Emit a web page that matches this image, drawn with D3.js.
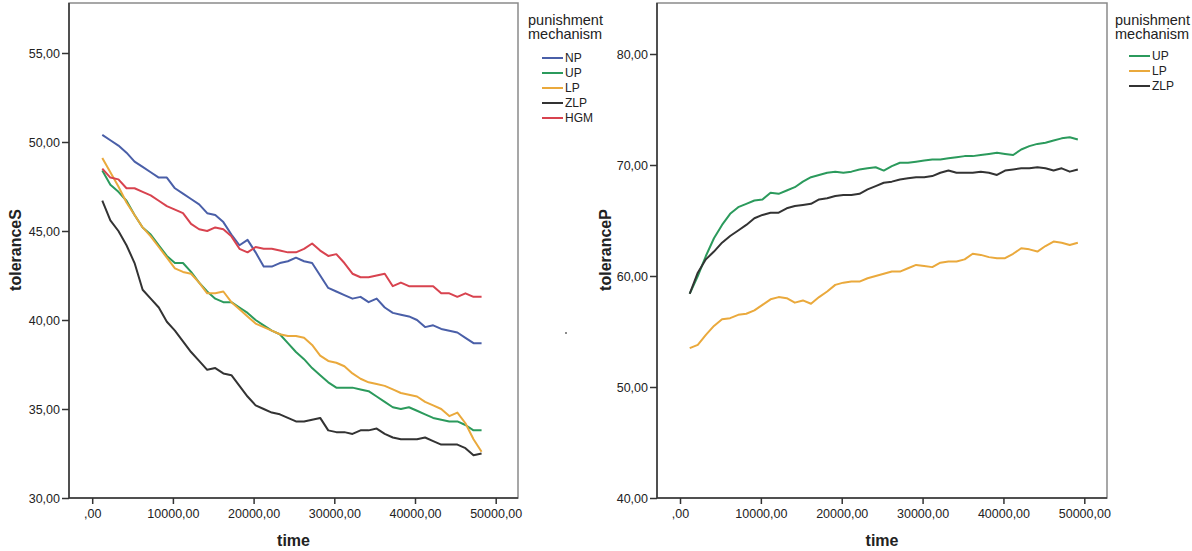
<!DOCTYPE html>
<html>
<head>
<meta charset="utf-8">
<script src="https://cdn.jsdelivr.net/npm/d3@7/dist/d3.min.js"></script>
<style>
  body { margin: 0; background: #fff; }
  text { font-family: Arial, "Liberation Sans", sans-serif; fill: #222; }
</style>
</head>
<body>
<div id="chart"></div>
<script>
let width = 1192
let height = 551

// time points of the left panel (toleranceS)
let timeS = [1250, 2250, 3250, 4250, 5250, 6250, 7250, 8250, 9250, 10250,
  11250, 12250, 13250, 14250, 15250, 16250, 17250, 18250, 19250, 20250,
  21250, 22250, 23250, 24250, 25250, 26250, 27250, 28250, 29250, 30250,
  31250, 32250, 33250, 34250, 35250, 36250, 37250, 38250, 39250, 40250,
  41250, 42250, 43250, 44250, 45250, 46250, 47250, 48250]

// time points of the right panel (toleranceP)
let timeP = [1200, 2200, 3200, 4200, 5200, 6200, 7200, 8200, 9200, 10200,
  11200, 12200, 13200, 14200, 15200, 16200, 17200, 18200, 19200, 20200,
  21200, 22200, 23200, 24200, 25200, 26200, 27200, 28200, 29200, 30200,
  31200, 32200, 33200, 34200, 35200, 36200, 37200, 38200, 39200, 40200,
  41200, 42200, 43200, 44200, 45200, 46200, 47200, 48200, 49200]

// toleranceS per mechanism
let npS = [50.4, 50.1, 49.8, 49.4, 48.9, 48.6, 48.3, 48.0, 48.0, 47.4,
  47.1, 46.8, 46.5, 46.0, 45.9, 45.5, 44.8, 44.2, 44.5, 43.8,
  43.0, 43.0, 43.2, 43.3, 43.5, 43.3, 43.2, 42.5, 41.8, 41.6,
  41.4, 41.2, 41.3, 41.0, 41.2, 40.7, 40.4, 40.3, 40.2, 40.0,
  39.6, 39.7, 39.5, 39.4, 39.3, 39.0, 38.7, 38.7]
let upS = [48.4, 47.6, 47.2, 46.7, 45.9, 45.2, 44.8, 44.2, 43.6, 43.2,
  43.2, 42.7, 42.1, 41.6, 41.2, 41.0, 41.0, 40.7, 40.4, 40.0,
  39.7, 39.4, 39.2, 38.7, 38.2, 37.8, 37.3, 36.9, 36.5, 36.2,
  36.2, 36.2, 36.1, 36.0, 35.7, 35.4, 35.1, 35.0, 35.1, 34.9,
  34.7, 34.5, 34.4, 34.3, 34.3, 34.1, 33.8, 33.8]
let lpS = [49.1, 48.3, 47.5, 46.6, 45.9, 45.2, 44.7, 44.1, 43.5, 42.9,
  42.7, 42.6, 42.1, 41.5, 41.5, 41.6, 41.0, 40.6, 40.2, 39.8,
  39.6, 39.4, 39.2, 39.1, 39.1, 39.0, 38.6, 38.0, 37.7, 37.6,
  37.4, 37.0, 36.7, 36.5, 36.4, 36.3, 36.1, 35.9, 35.8, 35.7,
  35.4, 35.2, 35.0, 34.6, 34.8, 34.2, 33.3, 32.6]
let zlpS = [46.7, 45.6, 45.0, 44.2, 43.2, 41.7, 41.2, 40.7, 39.9, 39.4,
  38.8, 38.2, 37.7, 37.2, 37.3, 37.0, 36.9, 36.3, 35.7, 35.2,
  35.0, 34.8, 34.7, 34.5, 34.3, 34.3, 34.4, 34.5, 33.8, 33.7,
  33.7, 33.6, 33.8, 33.8, 33.9, 33.6, 33.4, 33.3, 33.3, 33.3,
  33.4, 33.2, 33.0, 33.0, 33.0, 32.8, 32.4, 32.5]
let hgmS = [48.5, 48.0, 47.9, 47.4, 47.4, 47.2, 47.0, 46.7, 46.4, 46.2,
  46.0, 45.4, 45.1, 45.0, 45.2, 45.1, 44.7, 44.0, 43.8, 44.1,
  44.0, 44.0, 43.9, 43.8, 43.8, 44.0, 44.3, 43.9, 43.6, 43.7,
  43.2, 42.6, 42.4, 42.4, 42.5, 42.6, 41.9, 42.1, 41.9, 41.9,
  41.9, 41.9, 41.5, 41.5, 41.3, 41.5, 41.3, 41.3]

// toleranceP per mechanism
let upP = [58.4, 60.0, 61.8, 63.4, 64.6, 65.6, 66.2, 66.5, 66.8, 66.9,
  67.5, 67.4, 67.7, 68.0, 68.5, 68.9, 69.1, 69.3, 69.4, 69.3,
  69.4, 69.6, 69.7, 69.8, 69.5, 69.9, 70.2, 70.2, 70.3, 70.4,
  70.5, 70.5, 70.6, 70.7, 70.8, 70.8, 70.9, 71.0, 71.1, 71.0,
  70.9, 71.4, 71.7, 71.9, 72.0, 72.2, 72.4, 72.5, 72.3]
let lpP = [53.5, 53.8, 54.7, 55.5, 56.1, 56.2, 56.5, 56.6, 56.9, 57.4,
  57.9, 58.1, 58.0, 57.6, 57.8, 57.5, 58.1, 58.6, 59.2, 59.4,
  59.5, 59.5, 59.8, 60.0, 60.2, 60.4, 60.4, 60.7, 61.0, 60.9,
  60.8, 61.2, 61.3, 61.3, 61.5, 62.0, 61.9, 61.7, 61.6, 61.6,
  62.0, 62.5, 62.4, 62.2, 62.7, 63.1, 63.0, 62.8, 63.0]
let zlpP = [58.4, 60.3, 61.5, 62.2, 63.0, 63.6, 64.1, 64.6, 65.2, 65.5,
  65.7, 65.7, 66.1, 66.3, 66.4, 66.5, 66.9, 67.0, 67.2, 67.3,
  67.3, 67.4, 67.8, 68.1, 68.4, 68.5, 68.7, 68.8, 68.9, 68.9,
  69.0, 69.3, 69.5, 69.3, 69.3, 69.3, 69.4, 69.3, 69.1, 69.5,
  69.6, 69.7, 69.7, 69.8, 69.7, 69.5, 69.7, 69.4, 69.6]

// ticks
let xTicks = [0, 10000, 20000, 30000, 40000, 50000]
let yTicksS = [30, 35, 40, 45, 50, 55]
let yTicksP = [40, 50, 60, 70, 80]

let colors = { NP: "#4a5fa8", UP: "#2b9a5c", LP: "#eaa93c", ZLP: "#333333", HGM: "#d8434f" }

// SPSS style numbers: 55,00 and ,00
let fmt = d => d === 0 ? ",00" : d3.format(".2f")(d).replace(".", ",")

let svg = d3.select("#chart").append("svg")
  .attr("width", width)
  .attr("height", height)

function drawPanel(p) {
  let x = d3.scaleLinear().domain([0, 50000]).range(p.xRange)
  let y = d3.scaleLinear().domain(p.yDomain).range(p.yRange)
  let top = 3, bottom = 498

  // grey frame (top & right)
  svg.append("rect")
    .attr("x", p.left).attr("y", top)
    .attr("width", p.right - p.left).attr("height", bottom - top)
    .attr("fill", "none").attr("stroke", "#8a8a8a").attr("stroke-width", 1.5)

  // lines
  p.series.forEach(s => {
    svg.append("path")
      .datum(s.values.map((v, i) => [p.time[i], v]))
      .attr("fill", "none")
      .attr("stroke", colors[s.name])
      .attr("stroke-width", 2)
      .attr("stroke-linejoin", "round")
      .attr("d", d3.line().x(d => x(d[0])).y(d => y(d[1])))
  })

  // y axis
  let yg = svg.append("g")
    .attr("transform", "translate(" + p.left + ",0)")
    .call(d3.axisLeft(y).tickValues(p.yTicks).tickFormat(fmt).tickSize(7).tickPadding(2))
  yg.select(".domain").remove()
  yg.append("line").attr("y1", top).attr("y2", bottom).attr("stroke", "#333").attr("stroke-width", 1.5)

  // x axis
  let xg = svg.append("g")
    .attr("transform", "translate(0," + bottom + ")")
    .call(d3.axisBottom(x).tickValues(xTicks).tickFormat(fmt).tickSize(6).tickPadding(5))
  xg.select(".domain").remove()
  xg.append("line").attr("x1", p.left).attr("x2", p.right).attr("stroke", "#333").attr("stroke-width", 1.5)

  svg.selectAll(".tick line").attr("stroke", "#333").attr("stroke-width", 1.5)
  svg.selectAll(".tick text").style("font-size", "12.5px").attr("fill", "#222")

  // axis titles
  svg.append("text")
    .attr("x", (p.left + p.right) / 2).attr("y", 546)
    .attr("text-anchor", "middle")
    .style("font-size", "16px").style("font-weight", "bold")
    .text("time")
  svg.append("text")
    .attr("transform", "translate(" + p.yTitleX + ",250) rotate(-90)")
    .attr("text-anchor", "middle")
    .style("font-size", "16px").style("font-weight", "bold")
    .text(p.yTitle)

  // legend
  let lg = svg.append("g").attr("transform", "translate(" + p.legendX + ",0)")
  lg.append("text").attr("x", 0).attr("y", 25).style("font-size", "14.5px").text("punishment")
  lg.append("text").attr("x", 0).attr("y", 39).style("font-size", "14.5px").text("mechanism")
  p.series.forEach((s, i) => {
    let ly = p.legendY + i * 15
    lg.append("line")
      .attr("x1", 14).attr("x2", 35).attr("y1", ly).attr("y2", ly)
      .attr("stroke", colors[s.name]).attr("stroke-width", 2)
    lg.append("text")
      .attr("x", 37).attr("y", ly).attr("dy", "0.35em")
      .style("font-size", "12px")
      .text(s.name)
  })
}

drawPanel({
  left: 69, right: 518,
  xRange: [92.2, 495.7],
  yDomain: [30, 55], yRange: [498, 53],
  yTicks: yTicksS, time: timeS,
  yTitle: "toleranceS", yTitleX: 21,
  legendX: 528, legendY: 58,
  series: [
    { name: "NP", values: npS },
    { name: "UP", values: upS },
    { name: "LP", values: lpS },
    { name: "ZLP", values: zlpS },
    { name: "HGM", values: hgmS }
  ]
})

drawPanel({
  left: 657, right: 1107,
  xRange: [680, 1084.3],
  yDomain: [40, 80], yRange: [498, 54],
  yTicks: yTicksP, time: timeP,
  yTitle: "toleranceP", yTitleX: 611,
  legendX: 1115, legendY: 56,
  series: [
    { name: "UP", values: upP },
    { name: "LP", values: lpP },
    { name: "ZLP", values: zlpP }
  ]
})

// stray dot between the panels
svg.append("circle").attr("cx", 566).attr("cy", 333).attr("r", 1).attr("fill", "#666")
</script>
</body>
</html>
